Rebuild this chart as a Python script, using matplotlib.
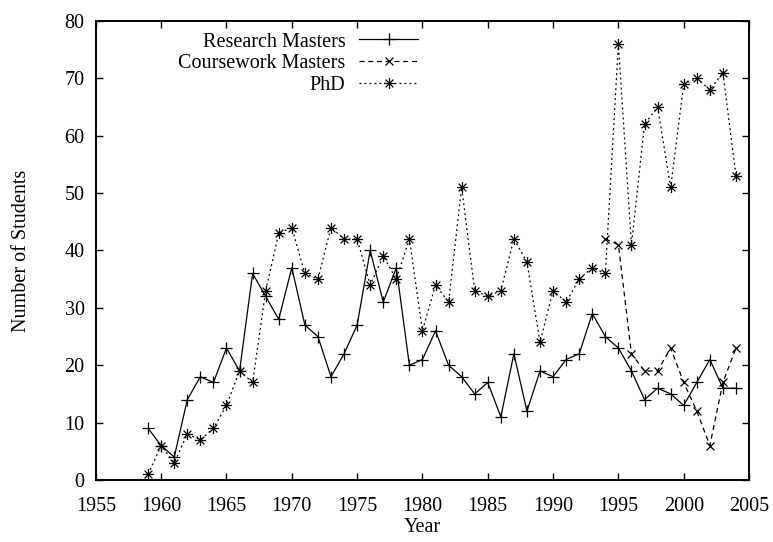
import matplotlib
matplotlib.use("Agg")
import matplotlib.pyplot as plt
from matplotlib.path import Path

plt.rcParams['font.family'] = ['Liberation Serif', 'DejaVu Serif']
FS = 14.5
plt.rcParams['font.size'] = FS

years_rm = list(range(1959, 2005))
research_masters = [9, 6, 4, 14, 18, 17, 23, 19, 36, 32, 28, 37, 27, 25, 18, 22, 27, 40, 31, 37,
                    20, 21, 26, 20, 18, 15, 17, 11, 22, 12, 19, 18, 21, 22, 29, 25, 23, 19, 14, 16,
                    15, 13, 17, 21, 16, 16]

years_cm = list(range(1994, 2005))
coursework_masters = [42, 41, 22, 19, 19, 23, 17, 12, 6, 17, 23]

years_phd = list(range(1959, 2005))
phd = [1, 6, 3, 8, 7, 9, 13, 19, 17, 33, 43, 44, 36, 35, 44, 42, 42, 34, 39, 35,
       42, 26, 34, 31, 51, 33, 32, 33, 42, 38, 24, 33, 31, 35, 37, 36, 76, 41, 62, 65,
       51, 69, 70, 68, 71, 53]

xticks = [1955, 1960, 1965, 1970, 1975, 1980, 1985, 1990, 1995, 2000, 2005]
yticks = [0, 10, 20, 30, 40, 50, 60, 70, 80]

# star marker (+ and x overlaid)
verts = [(-1, 0), (1, 0), (0, -1), (0, 1),
         (-0.7, -0.7), (0.7, 0.7), (-0.7, 0.7), (0.7, -0.7)]
codes = [Path.MOVETO, Path.LINETO] * 4
star = Path(verts, codes)

fig = plt.figure(figsize=(7.73, 5.42), dpi=100)
ax = fig.add_axes([0.124, 0.1144, 0.845, 0.8469])

lw = 0.9
ax.plot(years_rm, research_masters, color='black', lw=lw, linestyle='-',
        marker='+', markersize=8, markeredgewidth=lw, label='Research Masters')
ax.plot(years_cm, coursework_masters, color='black', lw=lw, linestyle=(0, (4, 3)),
        marker='x', markersize=6, markeredgewidth=lw, label='Coursework Masters')
ax.plot(years_phd, phd, color='black', lw=lw, linestyle=(0, (1.5, 2.5)),
        marker=star, markersize=8, markeredgewidth=lw, label='PhD')

ax.set_xlim(1955, 2005)
ax.set_ylim(0, 80)
ax.set_xticks(xticks)
ax.set_yticks(yticks)
ax.tick_params(axis='x', direction='in', top=True, length=5, width=1, labelsize=FS, pad=12.5)
ax.tick_params(axis='y', direction='in', right=True, length=5, width=1, labelsize=FS, pad=8)
for s in ax.spines.values():
    s.set_linewidth(1.4)

ax.set_xlabel('Year', fontsize=FS, labelpad=1)
ax.set_ylabel('Number of Students', fontsize=FS, labelpad=24)

leg = ax.legend(loc='upper right', bbox_to_anchor=(0.493, 0.975), frameon=False,
                markerfirst=False, handlelength=2.9, handletextpad=0.7,
                labelspacing=0.135, borderaxespad=0, borderpad=0, fontsize=FS)

fig.savefig('out.png', dpi=100)
